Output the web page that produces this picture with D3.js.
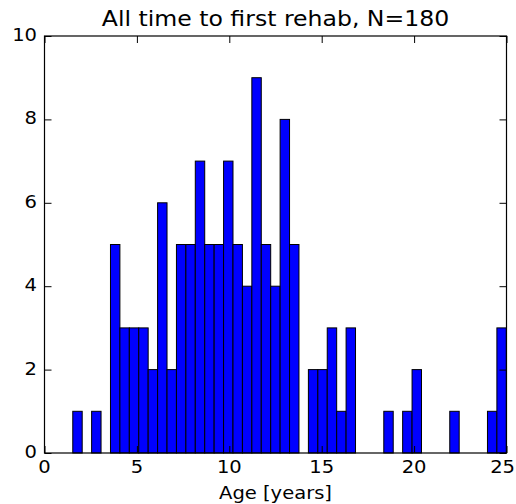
<!DOCTYPE html>
<html>
<head>
<meta charset="utf-8">
<script src="https://cdn.jsdelivr.net/npm/d3@7"></script>
<style>
  html, body { margin: 0; padding: 0; background: #fff; }
  svg { display: block; }
  text { font-family: "DejaVu Sans", sans-serif; fill: #000; }
</style>
</head>
<body>
<svg id="chart" width="516" height="504"></svg>
<script>
// ---- data ----
const titleText = "All time to first rehab, N=180";
const xLabelText = "Age [years]";
const binStart = 0;
const binWidth = 0.51;
// histogram counts per bin (bin i covers [binStart + i*binWidth, binStart + (i+1)*binWidth])
const counts = [0, 0, 0, 1, 0, 1, 0, 5, 3, 3,
                3, 2, 6, 2, 5, 5, 7, 5, 5, 7,
                5, 4, 9, 5, 4, 8, 5, 0, 2, 2,
                3, 1, 3, 0, 0, 0, 1, 0, 1, 2,
                0, 0, 0, 1, 0, 0, 0, 1, 3];
const xTicks = [0, 5, 10, 15, 20, 25];
const yTicks = [0, 2, 4, 6, 8, 10];
const xDomain = [0, 25];
const yDomain = [0, 10];

// ---- layout ----
const W = 516, H = 504;
const m = { left: 44.5, right: 506.5, top: 36, bottom: 453 };
const tickLen = 7;
const sx = 1.15; // horizontal text stretch seen in reference

const svg = d3.select("#chart");
svg.append("rect").attr("width", W).attr("height", H).attr("fill", "#fff");

const x = d3.scaleLinear().domain(xDomain).range([m.left, m.right]);
const y = d3.scaleLinear().domain(yDomain).range([m.bottom, m.top]);

svg.append("defs").append("clipPath").attr("id", "clip")
  .append("rect")
  .attr("x", m.left).attr("y", m.top - 2)
  .attr("width", m.right - m.left).attr("height", m.bottom - m.top + 4);

const bins = counts.map((c, i) => ({
  x0: binStart + i * binWidth,
  x1: binStart + (i + 1) * binWidth,
  c
})).filter(d => d.c > 0);

svg.append("g").attr("clip-path", "url(#clip)")
  .selectAll("rect").data(bins).join("rect")
  .attr("x", d => x(d.x0))
  .attr("y", d => y(d.c))
  .attr("width", d => x(d.x1) - x(d.x0))
  .attr("height", d => y(0) - y(d.c))
  .attr("fill", "#0000ff")
  .attr("stroke", "#000")
  .attr("stroke-width", 1);

// axes frame (spines) with inward ticks on all four sides
const axisStyle = g => {
  g.select(".domain").remove();
  g.selectAll(".tick text").remove();
  g.selectAll(".tick line").attr("stroke", "#000").attr("stroke-width", 1);
};
svg.append("g").attr("transform", `translate(0,${m.bottom})`)
  .call(d3.axisBottom(x).tickValues(xTicks).tickSize(-tickLen)).call(axisStyle);
svg.append("g").attr("transform", `translate(0,${m.top})`)
  .call(d3.axisTop(x).tickValues(xTicks).tickSize(-tickLen)).call(axisStyle);
svg.append("g").attr("transform", `translate(${m.left},0)`)
  .call(d3.axisLeft(y).tickValues(yTicks).tickSize(-tickLen)).call(axisStyle);
svg.append("g").attr("transform", `translate(${m.right},0)`)
  .call(d3.axisRight(y).tickValues(yTicks).tickSize(-tickLen)).call(axisStyle);

svg.append("rect")
  .attr("x", m.left).attr("y", m.top)
  .attr("width", m.right - m.left).attr("height", m.bottom - m.top)
  .attr("fill", "none").attr("stroke", "#000").attr("stroke-width", 1.2);

// tick labels (kept inside the picture edge, as in the reference)
const xLab = svg.append("g").selectAll("text").data(xTicks).join("text")
  .attr("text-anchor", "middle")
  .attr("font-size", 17)
  .text(d => d);
xLab.each(function(d) {
  const half = this.getBBox().width * sx / 2;
  const cx = Math.min(x(d), W - 1 - half);
  d3.select(this).attr("transform", `translate(${cx},${m.bottom + 20}) scale(${sx},1)`);
});

svg.append("g").selectAll("text").data(yTicks).join("text")
  .attr("transform", d => `translate(${m.left - 7.5},${y(d) + 5}) scale(${sx},1)`)
  .attr("text-anchor", "end")
  .attr("font-size", 17)
  .text(d => d);

// title and axis label
svg.append("text")
  .attr("transform", `translate(${(m.left + m.right) / 2},26) scale(${sx},1)`)
  .attr("text-anchor", "middle")
  .attr("font-size", 20.5)
  .text(titleText);

svg.append("text")
  .attr("transform", `translate(${(m.left + m.right) / 2},499) scale(${sx},1)`)
  .attr("text-anchor", "middle")
  .attr("font-size", 17)
  .text(xLabelText);
</script>
</body>
</html>
